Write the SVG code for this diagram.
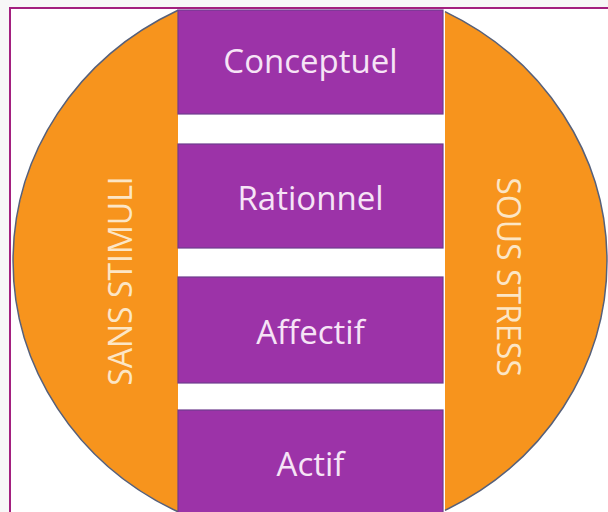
<svg xmlns="http://www.w3.org/2000/svg" width="608" height="512" viewBox="0 0 608 512">
  <style>
    .seg { fill: #f7941d; stroke: none; }
    .arc { fill: none; stroke: #56607a; stroke-width: 1.5; }
    .box { fill: #9c33a8; stroke: #6e3c8e; stroke-width: 1.2; }
    .lbl { font-family: "Open Sans", "Liberation Sans", sans-serif; font-size: 33px; fill: #f6e4f6; text-anchor: middle; }
    .side { font-family: "Open Sans", "Liberation Sans", sans-serif; font-size: 32px; fill: #fce6c6; text-anchor: middle; }
  </style>
  <rect x="0" y="0" width="608" height="512" fill="#f7f7f7"/>
  <rect x="10" y="8" width="620" height="530" fill="#ffffff" stroke="#a3207f" stroke-width="2"/>

  <g id="sans-stimuli">
    <path class="seg" d="M178,10.2 A297,280 0 0 0 178,511.8 Z"/>
    <path class="arc" d="M178,10.2 A297,280 0 0 0 178,511.8"/>
    <text class="side" transform="translate(132,281) rotate(-90)">SANS STIMULI</text>
  </g>

  <g id="sous-stress">
    <path class="seg" d="M445,11.6 A297,280 0 0 1 445,510.4 Z"/>
    <path class="arc" d="M445,11.6 A297,280 0 0 1 445,510.4"/>
    <text class="side" transform="translate(497,277) rotate(90)">SOUS STRESS</text>
  </g>

  <g id="conceptuel">
    <rect class="box" x="178" y="10" width="265" height="104"/>
    <text class="lbl" x="310.5" y="73">Conceptuel</text>
  </g>
  <g id="rationnel">
    <rect class="box" x="178" y="144" width="265" height="104"/>
    <text class="lbl" x="310.5" y="210">Rationnel</text>
  </g>
  <g id="affectif">
    <rect class="box" x="178" y="277" width="265" height="106"/>
    <text class="lbl" x="310.5" y="344">Affectif</text>
  </g>
  <g id="actif">
    <rect class="box" x="178" y="410" width="265" height="110"/>
    <text class="lbl" x="310.5" y="476">Actif</text>
  </g>
</svg>
